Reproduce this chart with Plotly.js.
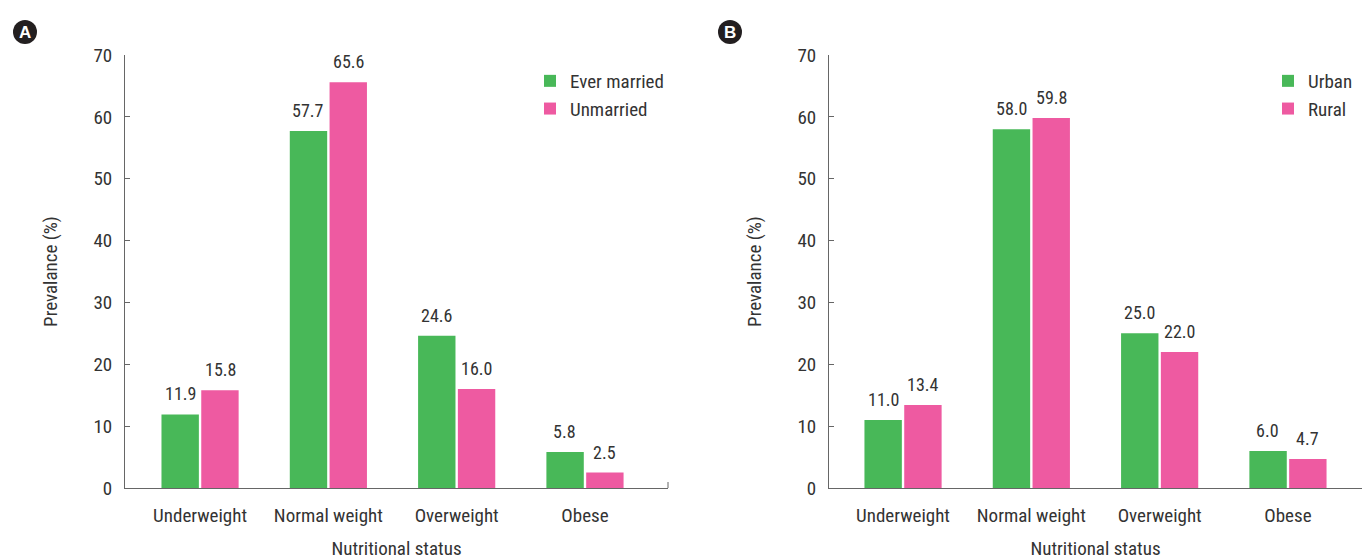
<!DOCTYPE html>
<html>
<head>
<meta charset="utf-8">
<script src="https://cdn.plot.ly/plotly-3.0.1.min.js"></script>
<style>html,body{margin:0;padding:0;background:#fff}#chart{width:1364px;height:560px}</style>
</head>
<body>
<div id="chart"></div>
<script>
const categories = ["Underweight", "Normal weight", "Overweight", "Obese"];
const everMarried = [11.9, 57.7, 24.6, 5.8];
const unmarried = [15.8, 65.6, 16.0, 2.5];
const urban = [11.0, 58.0, 25.0, 6.0];
const rural = [13.4, 59.8, 22.0, 4.7];
const yTicks = [0, 10, 20, 30, 40, 50, 60, 70];

const GREEN = "#48B858";
const PINK = "#EE5AA1";
const FONT = "'Liberation Sans Narrow', 'Roboto Condensed', 'DejaVu Sans Condensed', Roboto, sans-serif";
const TXT = "#333333";

function bar(name, y, color, xa, ya, legend) {
  return {
    type: "bar", name: name, x: categories, y: y, xaxis: xa, yaxis: ya, legend: legend,
    marker: {color: color}, hoverinfo: "skip"
  };
}

const data = [
  bar("Ever married", everMarried, GREEN, "x", "y", "legend"),
  bar("Unmarried", unmarried, PINK, "x", "y", "legend"),
  bar("Urban", urban, GREEN, "x2", "y2", "legend2"),
  bar("Rural", rural, PINK, "x2", "y2", "legend2")
];

const W = 1364, H = 560;
const yDom = [1 - 488 / H, 1 - 55 / H];

function xax(d0, d1, range, anchor) {
  return {
    domain: [d0 / W, d1 / W], anchor: anchor, type: "category", range: range,
    showline: true, linecolor: "#666", linewidth: 1, ticks: "", showgrid: false, zeroline: false,
    ticklabelstandoff: 10,
    tickfont: {family: FONT, size: 19, color: TXT},
    title: {text: "Nutritional status", font: {family: FONT, size: 19, color: TXT}, standoff: 24},
    fixedrange: true
  };
}
function yax(anchor) {
  return {
    domain: yDom, anchor: anchor, range: [0, 70], tickvals: yTicks, ticktext: yTicks.map(String),
    showline: true, linecolor: "#666", linewidth: 1, ticks: "inside", ticklen: 5, tickcolor: "#666",
    showgrid: false, zeroline: false, ticklabelstandoff: 8,
    tickfont: {family: FONT, size: 19, color: TXT},
    title: {text: "Prevalance (%)", font: {family: FONT, size: 19, color: TXT}, standoff: 30},
    fixedrange: true
  };
}

const legendBase = {
  font: {family: FONT, size: 19, color: TXT}, bgcolor: "rgba(0,0,0,0)",
  xanchor: "left", yanchor: "top", tracegroupgap: 0, itemwidth: 30, traceorder: "normal"
};

function labels(vals, xa, ya, shift) {
  return vals.map((v, i) => ({
    text: v.toFixed(1), x: categories[i], y: v, xref: xa, yref: ya,
    xanchor: "center", yanchor: "bottom", yshift: 8, xshift: shift, showarrow: false,
    font: {family: FONT, size: 18, color: TXT}
  }));
}

const layout = {
  width: W, height: H,
  margin: {l: 0, r: 0, t: 0, b: 0},
  paper_bgcolor: "#fff", plot_bgcolor: "#fff",
  barmode: "group", bargap: 0.38, bargroupgap: 0.06,
  font: {family: FONT, size: 19, color: TXT},
  xaxis: xax(125, 668, [-0.585, 3.647], "y"),
  yaxis: yax("x"),
  xaxis2: xax(829, 1362, [-0.577, 3.577], "y2"),
  yaxis2: yax("x2"),
  legend: Object.assign({}, legendBase, {x: 530 / W, y: 1 - 62 / H}),
  legend2: Object.assign({}, legendBase, {x: 1268 / W, y: 1 - 62 / H}),
  shapes: [
    {type: "circle", layer: "below", xref: "paper", yref: "paper", x0: 13 / W, x1: 37 / W, y0: 1 - 44 / H, y1: 1 - 20 / H, fillcolor: "#231f20", line: {width: 0}},
    {type: "circle", layer: "below", xref: "paper", yref: "paper", x0: 718 / W, x1: 742 / W, y0: 1 - 44 / H, y1: 1 - 20 / H, fillcolor: "#231f20", line: {width: 0}},
    {type: "line", xref: "paper", yref: "paper", x0: 668 / W, x1: 668 / W, y0: 1 - 488 / H, y1: 1 - 482 / H, line: {color: "#666", width: 1}}
  ],
  annotations: [
    {text: "<b>A</b>", xref: "paper", yref: "paper", x: 25 / W, y: 1 - 32 / H, xanchor: "center", yanchor: "middle", showarrow: false, font: {family: "Liberation Sans, Arial, sans-serif", size: 17, color: "#fff"}},
    {text: "<b>B</b>", xref: "paper", yref: "paper", x: 730 / W, y: 1 - 32 / H, xanchor: "center", yanchor: "middle", showarrow: false, font: {family: "Liberation Sans, Arial, sans-serif", size: 17, color: "#fff"}}
  ].concat(
    labels(everMarried, "x", "y", -20), labels(unmarried, "x", "y", 20),
    labels(urban, "x2", "y2", -20), labels(rural, "x2", "y2", 20)
  )
};

Plotly.newPlot("chart", data, layout, {displayModeBar: false, staticPlot: true});
</script>
</body>
</html>
